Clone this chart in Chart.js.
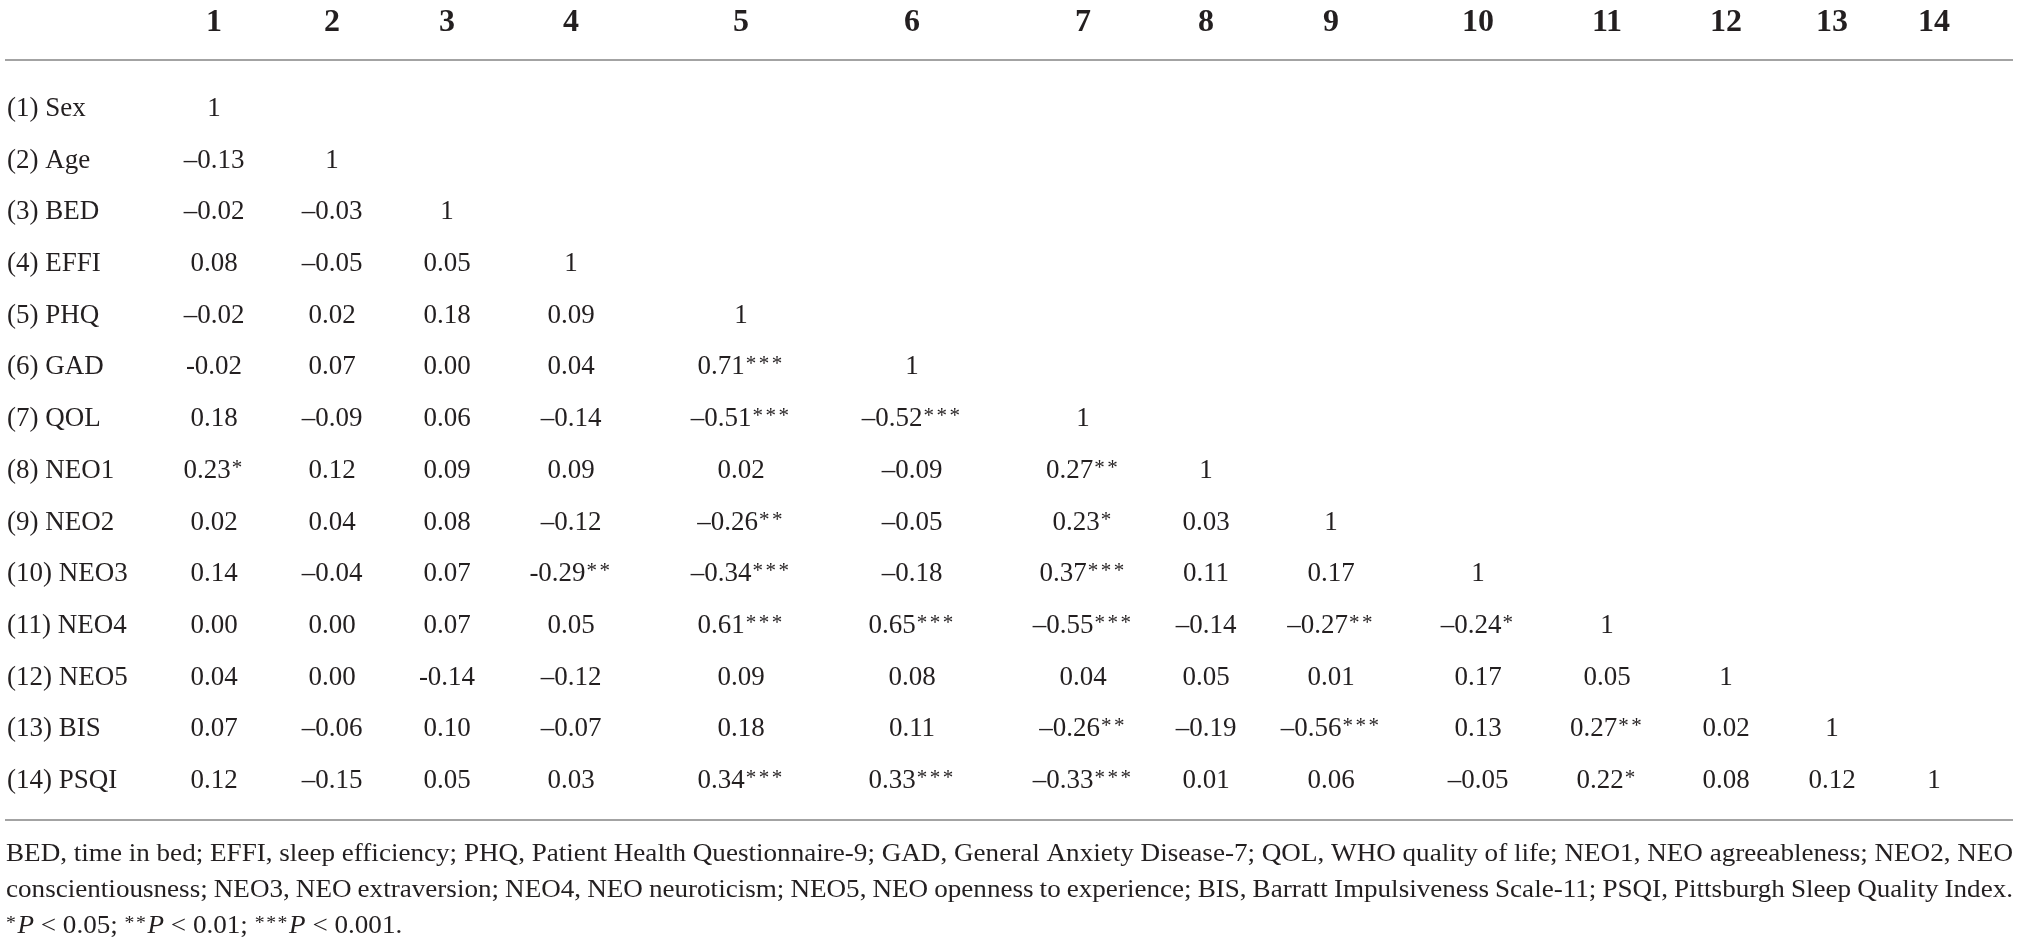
<!DOCTYPE html>
<html>
<head>
<meta charset="utf-8">
<script src="https://cdn.jsdelivr.net/npm/chart.js@4.4.1/dist/chart.umd.min.js"></script>
<style>
  html, body { margin: 0; padding: 0; background: #ffffff; }
  #wrap { width: 2019px; height: 944px; position: relative; }
</style>
</head>
<body>
<div id="wrap"><canvas id="c"></canvas></div>
<script>
// ---------- DATA ----------
const colLabels = ['1','2','3','4','5','6','7','8','9','10','11','12','13','14'];
const rowLabels = ['(1) Sex','(2) Age','(3) BED','(4) EFFI','(5) PHQ','(6) GAD','(7) QOL',
  '(8) NEO1','(9) NEO2','(10) NEO3','(11) NEO4','(12) NEO5','(13) BIS','(14) PSQI'];

// correlation coefficients (lower triangle, row by row)
const rSex  = [1];
const rAge  = [-0.13, 1];
const rBED  = [-0.02, -0.03, 1];
const rEFFI = [0.08, -0.05, 0.05, 1];
const rPHQ  = [-0.02, 0.02, 0.18, 0.09, 1];
const rGAD  = [-0.02, 0.07, 0.00, 0.04, 0.71, 1];
const rQOL  = [0.18, -0.09, 0.06, -0.14, -0.51, -0.52, 1];
const rNEO1 = [0.23, 0.12, 0.09, 0.09, 0.02, -0.09, 0.27, 1];
const rNEO2 = [0.02, 0.04, 0.08, -0.12, -0.26, -0.05, 0.23, 0.03, 1];
const rNEO3 = [0.14, -0.04, 0.07, -0.29, -0.34, -0.18, 0.37, 0.11, 0.17, 1];
const rNEO4 = [0.00, 0.00, 0.07, 0.05, 0.61, 0.65, -0.55, -0.14, -0.27, -0.24, 1];
const rNEO5 = [0.04, 0.00, -0.14, -0.12, 0.09, 0.08, 0.04, 0.05, 0.01, 0.17, 0.05, 1];
const rBIS  = [0.07, -0.06, 0.10, -0.07, 0.18, 0.11, -0.26, -0.19, -0.56, 0.13, 0.27, 0.02, 1];
const rPSQI = [0.12, -0.15, 0.05, 0.03, 0.34, 0.33, -0.33, 0.01, 0.06, -0.05, 0.22, 0.08, 0.12, 1];

// significance stars (number of asterisks)
const sSex  = [0];
const sAge  = [0, 0];
const sBED  = [0, 0, 0];
const sEFFI = [0, 0, 0, 0];
const sPHQ  = [0, 0, 0, 0, 0];
const sGAD  = [0, 0, 0, 0, 3, 0];
const sQOL  = [0, 0, 0, 0, 3, 3, 0];
const sNEO1 = [1, 0, 0, 0, 0, 0, 2, 0];
const sNEO2 = [0, 0, 0, 0, 2, 0, 1, 0, 0];
const sNEO3 = [0, 0, 0, 2, 3, 0, 3, 0, 0, 0];
const sNEO4 = [0, 0, 0, 0, 3, 3, 3, 0, 2, 1, 0];
const sNEO5 = [0, 0, 0, 0, 0, 0, 0, 0, 0, 0, 0, 0];
const sBIS  = [0, 0, 0, 0, 0, 0, 2, 0, 3, 0, 2, 0, 0];
const sPSQI = [0, 0, 0, 0, 3, 3, 3, 0, 0, 0, 1, 0, 0, 0];

// cells printed with a plain hyphen instead of a minus sign in the source: [row, col] (1-based)
const hyphenCells = [[6, 1], [10, 4], [12, 3]];

const footLine1 = 'BED, time in bed; EFFI, sleep efficiency; PHQ, Patient Health Questionnaire-9; GAD, General Anxiety Disease-7; QOL, WHO quality of life; NEO1, NEO agreeableness; NEO2, NEO';
const footLine2 = 'conscientiousness; NEO3, NEO extraversion; NEO4, NEO neuroticism; NEO5, NEO openness to experience; BIS, Barratt Impulsiveness Scale-11; PSQI, Pittsburgh Sleep Quality Index.';
const footLine3 = [['*','sup'],['P','it'],[' < 0.05; ',''],['**','sup'],['P','it'],[' < 0.01; ',''],['***','sup'],['P','it'],[' < 0.001.','']];

// ---------- LAYOUT (not data) ----------
const W = 2019, H = 944;
const colCenters = [214, 332, 447, 571, 741, 912, 1083, 1206, 1331, 1478, 1607, 1726, 1832, 1934];
const L = {
  headerBase: 31, topRule: 60, bottomRule: 820, ruleL: 5, ruleR: 2013,
  labelX: 7, footX: 6, footR: 2013, footBase: [861, 897, 933],
  padTop: 81, padBottom: 139
};
const FONT = '"Liberation Serif", "Times New Roman", serif';
const INK = '#231f20';
const STAR_FONT = '21px ' + FONT, STAR_STEP = 13, STAR_RAISE = 4;

const corrRows = [rSex, rAge, rBED, rEFFI, rPHQ, rGAD, rQOL, rNEO1, rNEO2, rNEO3, rNEO4, rNEO5, rBIS, rPSQI];
const sigRows  = [sSex, sAge, sBED, sEFFI, sPHQ, sGAD, sQOL, sNEO1, sNEO2, sNEO3, sNEO4, sNEO5, sBIS, sPSQI];

const cells = [];
corrRows.forEach((row, i) => {
  row.forEach((v, j) => {
    const hy = hyphenCells.some(c => c[0] === i + 1 && c[1] === j + 1);
    cells.push({ x: colCenters[j], y: rowLabels[i], v: v, s: sigRows[i][j], hy: hy });
  });
});

function fmt(v, hy) {
  if (v === 1) return '1';
  const a = Math.abs(v).toFixed(2);
  return v < 0 ? (hy ? '-' : '\u2013') + a : a;
}

const tablePlugin = {
  id: 'tablePlugin',
  beforeDraw(chart) {
    const ctx = chart.ctx;
    ctx.save();
    ctx.fillStyle = '#ffffff';
    ctx.fillRect(0, 0, chart.width, chart.height);
    ctx.restore();
  },
  afterDatasetsDraw(chart) {
    const ctx = chart.ctx;
    const xs = chart.scales.x, ys = chart.scales.y;
    ctx.save();
    ctx.fillStyle = INK;
    ctx.textBaseline = 'alphabetic';

    // header (column numbers)
    ctx.font = 'bold 32px ' + FONT;
    ctx.textAlign = 'center';
    colLabels.forEach((lab, j) => {
      ctx.fillText(lab, xs.getPixelForValue(colCenters[j]), L.headerBase);
    });

    // rules
    ctx.strokeStyle = '#a3a3a3';
    ctx.lineWidth = 2;
    [L.topRule, L.bottomRule].forEach(y => {
      ctx.beginPath(); ctx.moveTo(L.ruleL, y); ctx.lineTo(L.ruleR, y); ctx.stroke();
    });

    // row labels
    ctx.font = '27px ' + FONT;
    ctx.textAlign = 'left';
    rowLabels.forEach((lab, i) => {
      ctx.fillText(lab, L.labelX, ys.getPixelForValue(i) + 9);
    });

    // cells
    const meta = chart.getDatasetMeta(0);
    const ds = chart.data.datasets[0].data;
    meta.data.forEach((el, k) => {
      const d = ds[k];
      const txt = fmt(d.v, d.hy);
      ctx.font = '27px ' + FONT;
      const wNum = ctx.measureText(txt).width + (d.s ? 1 : 0);
      const wStar = d.s * STAR_STEP;
      const x0 = el.x - (wNum + wStar) / 2;
      const base = el.y + 9;
      ctx.textAlign = 'left';
      ctx.fillText(txt, x0, base);
      ctx.font = STAR_FONT;
      for (let q = 0; q < d.s; q++) {
        ctx.fillText('*', x0 + wNum + q * STAR_STEP, base - STAR_RAISE);
      }
    });

    // footnotes: slightly stretched serif, first two lines justified
    const footSize = 26;
    const footFont = footSize + 'px ' + FONT;
    const target = L.footR - L.footX;
    ctx.font = footFont;
    let sx = target / ctx.measureText(footLine1).width;
    sx = Math.max(1, Math.min(1.3, sx));
    const localW = target / sx;
    ctx.save();
    ctx.translate(L.footX, 0);
    ctx.scale(sx, 1);
    ctx.textAlign = 'left';
    function justify(line, y) {
      ctx.font = footFont;
      const words = line.split(' ');
      const widths = words.map(w => ctx.measureText(w).width);
      const total = widths.reduce((a, b) => a + b, 0);
      const gap = (localW - total) / (words.length - 1);
      let x = 0;
      words.forEach((w, i) => { ctx.fillText(w, x, y); x += widths[i] + gap; });
    }
    justify(footLine1, L.footBase[0]);
    justify(footLine2, L.footBase[1]);
    let fx = 0;
    footLine3.forEach(([t, st]) => {
      if (st === 'sup') {
        ctx.font = '19px ' + FONT;
        for (let q = 0; q < t.length; q++) {
          ctx.fillText('*', fx, L.footBase[2] - 4);
          fx += 11;
        }
        return;
      }
      ctx.font = st === 'it' ? 'italic ' + footSize + 'px ' + FONT : footFont;
      ctx.fillText(t, fx, L.footBase[2]);
      fx += ctx.measureText(t).width;
    });
    ctx.restore();
    ctx.restore();
  }
};

new Chart(document.getElementById('c'), {
  type: 'scatter',
  data: {
    datasets: [{
      label: 'correlations',
      data: cells,
      pointRadius: 0,
      pointHoverRadius: 0,
      showLine: false
    }]
  },
  options: {
    responsive: true,
    maintainAspectRatio: false,
    animation: false,
    devicePixelRatio: 1,
    events: [],
    layout: { padding: { top: L.padTop, bottom: L.padBottom, left: 0, right: 0 } },
    plugins: { legend: { display: false }, tooltip: { enabled: false }, title: { display: false } },
    scales: {
      x: { type: 'linear', min: 0, max: W, display: false },
      y: { type: 'category', labels: rowLabels, offset: true, display: false }
    }
  },
  plugins: [tablePlugin]
});
</script>
</body>
</html>
